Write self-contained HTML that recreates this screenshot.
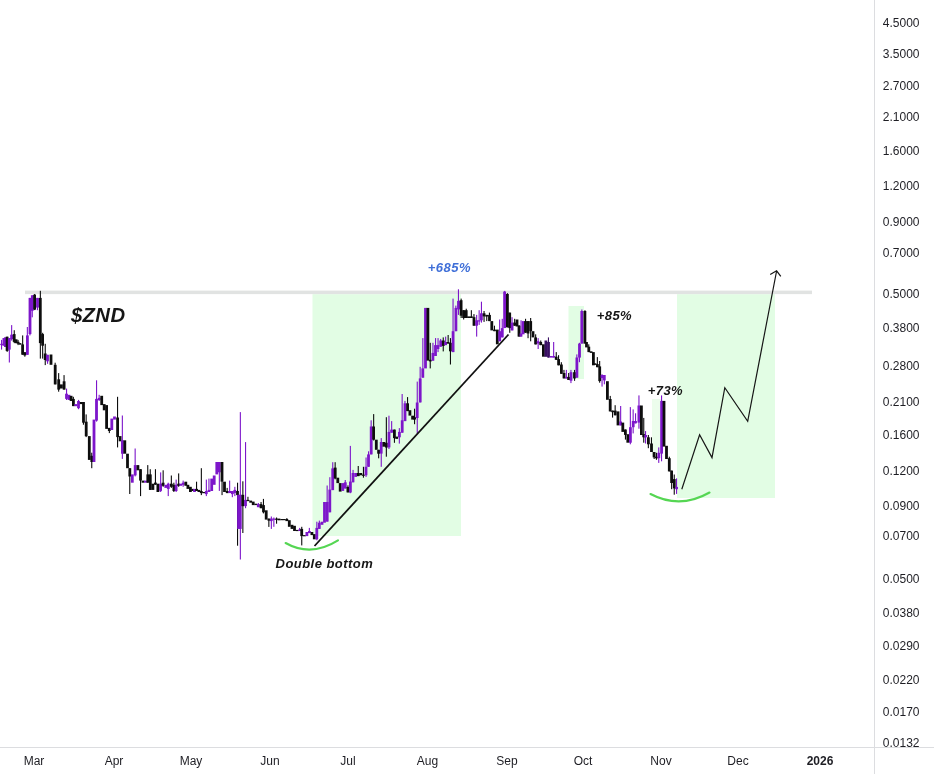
<!DOCTYPE html>
<html lang="en"><head><meta charset="utf-8"><title>$ZND chart</title>
<style>
html,body{margin:0;padding:0;background:#fff}
#chart{position:relative;width:934px;height:774px;overflow:hidden;background:#fff}
svg{display:block}
text{font-family:"Liberation Sans",sans-serif}
.ax{font-size:12px;fill:#1e1e24}
.bi{font-weight:bold;font-style:italic;fill:#161616}
</style></head><body><div id="chart">
<svg width="934" height="774" viewBox="0 0 934 774">
<rect width="934" height="774" fill="#fff"/>
<g fill="#e2fde4">
<rect x="312.5" y="294.2" width="148.5" height="241.8"/>
<rect x="677" y="294.2" width="98" height="203.8"/>
</g>
<rect x="568.5" y="306" width="15.5" height="73" fill="#e2fde4"/>
<rect x="652" y="399" width="10" height="57" fill="#ecfdec"/>
<rect x="25" y="290.6" width="787" height="3.5" fill="#e1e3e2"/>
<rect x="874" y="0" width="1" height="774" fill="#dcdde0"/>
<rect x="0" y="747" width="934" height="1" fill="#dcdde0"/>
<g shape-rendering="auto">
<rect x="1" y="339.9" width="1.1" height="9.7" fill="#7d16ca"/>
<rect x="6.6" y="336.7" width="1.1" height="15.2" fill="#0d0d0d"/>
<rect x="8.8" y="338" width="1.1" height="24.5" fill="#7d16ca"/>
<rect x="11.1" y="325.1" width="1.1" height="15.5" fill="#7d16ca"/>
<rect x="13.7" y="330.2" width="1.1" height="12.9" fill="#0d0d0d"/>
<rect x="17.5" y="339.9" width="1.1" height="5.2" fill="#0d0d0d"/>
<rect x="22.1" y="335.4" width="1.1" height="19.4" fill="#0d0d0d"/>
<rect x="24.3" y="352.2" width="1.1" height="4.5" fill="#0d0d0d"/>
<rect x="26.8" y="327" width="1.1" height="27.8" fill="#7d16ca"/>
<rect x="29.4" y="297.9" width="1.1" height="37.5" fill="#7d16ca"/>
<rect x="31.7" y="295.3" width="1.1" height="22" fill="#7d16ca"/>
<rect x="34.1" y="294" width="1.1" height="16.1" fill="#0d0d0d"/>
<rect x="36.9" y="297.9" width="1.1" height="12.3" fill="#7d16ca"/>
<rect x="39.8" y="290.8" width="1.1" height="67.8" fill="#0d0d0d"/>
<rect x="42.1" y="332.8" width="1.1" height="25.8" fill="#0d0d0d"/>
<rect x="44.7" y="343.8" width="1.1" height="21.3" fill="#0d0d0d"/>
<rect x="47" y="354.8" width="1.1" height="9" fill="#7d16ca"/>
<rect x="54.6" y="362.7" width="1.1" height="21.7" fill="#0d0d0d"/>
<rect x="58.1" y="373.1" width="1.1" height="18.6" fill="#0d0d0d"/>
<rect x="63.5" y="375.1" width="1.1" height="14.5" fill="#0d0d0d"/>
<rect x="66" y="388.6" width="1.1" height="11.4" fill="#7d16ca"/>
<rect x="72.8" y="396.8" width="1.1" height="9.3" fill="#0d0d0d"/>
<rect x="78" y="399.9" width="1.1" height="9.3" fill="#7d16ca"/>
<rect x="82.9" y="402" width="1.1" height="22.7" fill="#0d0d0d"/>
<rect x="85.6" y="414.4" width="1.1" height="22.7" fill="#0d0d0d"/>
<rect x="91.2" y="452.7" width="1.1" height="15.5" fill="#0d0d0d"/>
<rect x="96" y="380.3" width="1.1" height="41.3" fill="#7d16ca"/>
<rect x="98.6" y="394.8" width="1.1" height="6.2" fill="#7d16ca"/>
<rect x="108.8" y="427.9" width="1.1" height="5.2" fill="#0d0d0d"/>
<rect x="117" y="396.8" width="1.1" height="50.6" fill="#0d0d0d"/>
<rect x="121.8" y="415.5" width="1.1" height="43.4" fill="#7d16ca"/>
<rect x="129.2" y="468.2" width="1.1" height="25.8" fill="#0d0d0d"/>
<rect x="134.6" y="448.5" width="1.1" height="27.9" fill="#7d16ca"/>
<rect x="140" y="469.2" width="1.1" height="26.9" fill="#0d0d0d"/>
<rect x="147.2" y="465.1" width="1.1" height="17.6" fill="#0d0d0d"/>
<rect x="149.7" y="469.2" width="1.1" height="20.7" fill="#0d0d0d"/>
<rect x="154.9" y="469.2" width="1.1" height="15.5" fill="#0d0d0d"/>
<rect x="160.1" y="472.4" width="1.1" height="19.6" fill="#7d16ca"/>
<rect x="162.6" y="470.3" width="1.1" height="16.5" fill="#0d0d0d"/>
<rect x="167.7" y="482.7" width="1.1" height="13.4" fill="#7d16ca"/>
<rect x="170.8" y="475.5" width="1.1" height="12.4" fill="#0d0d0d"/>
<rect x="173.3" y="482.7" width="1.1" height="9.3" fill="#0d0d0d"/>
<rect x="175.6" y="479.6" width="1.1" height="12.4" fill="#7d16ca"/>
<rect x="178.1" y="473.4" width="1.1" height="13.4" fill="#0d0d0d"/>
<rect x="182.6" y="480.6" width="1.1" height="6.2" fill="#7d16ca"/>
<rect x="196" y="481.7" width="1.1" height="9.3" fill="#0d0d0d"/>
<rect x="200.8" y="468.2" width="1.1" height="26.9" fill="#0d0d0d"/>
<rect x="205.8" y="479.6" width="1.1" height="16.5" fill="#7d16ca"/>
<rect x="208.4" y="478.6" width="1.1" height="13.4" fill="#7d16ca"/>
<rect x="218.8" y="462" width="1.1" height="28.9" fill="#7d16ca"/>
<rect x="221.5" y="462" width="1.1" height="33.1" fill="#0d0d0d"/>
<rect x="226.6" y="487.9" width="1.1" height="5.2" fill="#0d0d0d"/>
<rect x="229.1" y="480.6" width="1.1" height="12.4" fill="#7d16ca"/>
<rect x="231.8" y="491" width="1.1" height="6.2" fill="#7d16ca"/>
<rect x="234.3" y="486.8" width="1.1" height="9.3" fill="#7d16ca"/>
<rect x="237" y="482.7" width="1.1" height="63" fill="#0d0d0d"/>
<rect x="239.8" y="412.1" width="1.1" height="147.4" fill="#7d16ca"/>
<rect x="242.3" y="481.3" width="1.1" height="51.7" fill="#0d0d0d"/>
<rect x="245" y="442.1" width="1.1" height="66.1" fill="#7d16ca"/>
<rect x="247.4" y="496.8" width="1.1" height="4.3" fill="#0d0d0d"/>
<rect x="257.8" y="503" width="1.1" height="4.1" fill="#7d16ca"/>
<rect x="260.5" y="502" width="1.1" height="6.2" fill="#0d0d0d"/>
<rect x="262.9" y="498.9" width="1.1" height="14.5" fill="#0d0d0d"/>
<rect x="268.3" y="518.6" width="1.1" height="8.3" fill="#0d0d0d"/>
<rect x="270.8" y="516.5" width="1.1" height="12.4" fill="#7d16ca"/>
<rect x="273.3" y="517.5" width="1.1" height="9.3" fill="#7d16ca"/>
<rect x="276" y="517.5" width="1.1" height="6.2" fill="#0d0d0d"/>
<rect x="286.3" y="518.1" width="1.1" height="2.9" fill="#0d0d0d"/>
<rect x="299.1" y="527.9" width="1.1" height="3.1" fill="#7d16ca"/>
<rect x="301.2" y="526.8" width="1.1" height="18.6" fill="#0d0d0d"/>
<rect x="308.8" y="527.9" width="1.1" height="5.2" fill="#7d16ca"/>
<rect x="316.3" y="521.7" width="1.1" height="18.6" fill="#7d16ca"/>
<rect x="318.8" y="520.6" width="1.1" height="8.3" fill="#7d16ca"/>
<rect x="326.6" y="485.5" width="1.1" height="36.2" fill="#7d16ca"/>
<rect x="329.3" y="477.2" width="1.1" height="35.1" fill="#7d16ca"/>
<rect x="332.2" y="462.2" width="1.1" height="27.9" fill="#7d16ca"/>
<rect x="334.6" y="462.2" width="1.1" height="17.1" fill="#0d0d0d"/>
<rect x="344.7" y="480" width="1.1" height="8.5" fill="#7d16ca"/>
<rect x="347.4" y="485.4" width="1.1" height="7" fill="#0d0d0d"/>
<rect x="349.8" y="445.9" width="1.1" height="47.3" fill="#7d16ca"/>
<rect x="352.5" y="469.9" width="1.1" height="12.4" fill="#7d16ca"/>
<rect x="357.7" y="466" width="1.1" height="10.1" fill="#0d0d0d"/>
<rect x="362.9" y="466.8" width="1.1" height="10.9" fill="#0d0d0d"/>
<rect x="365.5" y="457.5" width="1.1" height="19.4" fill="#7d16ca"/>
<rect x="368" y="451.3" width="1.1" height="15.5" fill="#7d16ca"/>
<rect x="370.6" y="420.3" width="1.1" height="34.1" fill="#7d16ca"/>
<rect x="373.1" y="414.1" width="1.1" height="26.4" fill="#0d0d0d"/>
<rect x="378.1" y="449.8" width="1.1" height="8.5" fill="#0d0d0d"/>
<rect x="380.7" y="438.1" width="1.1" height="28.7" fill="#7d16ca"/>
<rect x="385.8" y="417.2" width="1.1" height="39.5" fill="#0d0d0d"/>
<rect x="388.4" y="415.7" width="1.1" height="33.3" fill="#7d16ca"/>
<rect x="391.1" y="421.1" width="1.1" height="11.6" fill="#7d16ca"/>
<rect x="393.9" y="429.6" width="1.1" height="13.2" fill="#0d0d0d"/>
<rect x="398.8" y="428.1" width="1.1" height="15.5" fill="#7d16ca"/>
<rect x="401.6" y="394" width="1.1" height="38.8" fill="#7d16ca"/>
<rect x="404.4" y="400.9" width="1.1" height="20.2" fill="#7d16ca"/>
<rect x="407" y="397.1" width="1.1" height="14" fill="#0d0d0d"/>
<rect x="414" y="408.7" width="1.1" height="15.5" fill="#0d0d0d"/>
<rect x="416.7" y="381.6" width="1.1" height="51.9" fill="#7d16ca"/>
<rect x="419.6" y="366.8" width="1.1" height="35.7" fill="#7d16ca"/>
<rect x="422.3" y="338.1" width="1.1" height="39.5" fill="#7d16ca"/>
<rect x="429.7" y="342.8" width="1.1" height="25.6" fill="#0d0d0d"/>
<rect x="432.4" y="342.8" width="1.1" height="17.8" fill="#7d16ca"/>
<rect x="435" y="338.1" width="1.1" height="17.8" fill="#7d16ca"/>
<rect x="437.5" y="338.1" width="1.1" height="14" fill="#7d16ca"/>
<rect x="440.1" y="338.9" width="1.1" height="7.8" fill="#7d16ca"/>
<rect x="442.7" y="337.4" width="1.1" height="14" fill="#0d0d0d"/>
<rect x="445.1" y="336.6" width="1.1" height="8.5" fill="#7d16ca"/>
<rect x="447.6" y="335" width="1.1" height="8.5" fill="#0d0d0d"/>
<rect x="449.9" y="338.1" width="1.1" height="26.4" fill="#0d0d0d"/>
<rect x="452.5" y="298.6" width="1.1" height="53.5" fill="#7d16ca"/>
<rect x="455.3" y="305.6" width="1.1" height="25.6" fill="#7d16ca"/>
<rect x="457.9" y="289.3" width="1.1" height="25.6" fill="#7d16ca"/>
<rect x="460.6" y="298.6" width="1.1" height="19.4" fill="#0d0d0d"/>
<rect x="463.1" y="310.2" width="1.1" height="9.3" fill="#0d0d0d"/>
<rect x="465.7" y="308.7" width="1.1" height="9.3" fill="#0d0d0d"/>
<rect x="470.8" y="310.2" width="1.1" height="7.8" fill="#0d0d0d"/>
<rect x="473.4" y="314.1" width="1.1" height="11.6" fill="#0d0d0d"/>
<rect x="476.1" y="314.9" width="1.1" height="21.7" fill="#7d16ca"/>
<rect x="478.6" y="310.2" width="1.1" height="14.7" fill="#7d16ca"/>
<rect x="480.9" y="301.7" width="1.1" height="20.9" fill="#7d16ca"/>
<rect x="483.5" y="311" width="1.1" height="10.9" fill="#0d0d0d"/>
<rect x="486.2" y="314.9" width="1.1" height="6.2" fill="#0d0d0d"/>
<rect x="488.9" y="312.6" width="1.1" height="8.5" fill="#0d0d0d"/>
<rect x="493.9" y="325.7" width="1.1" height="5.4" fill="#0d0d0d"/>
<rect x="499.1" y="319.5" width="1.1" height="21.7" fill="#7d16ca"/>
<rect x="501.7" y="318.8" width="1.1" height="18.6" fill="#7d16ca"/>
<rect x="504.1" y="290.9" width="1.1" height="37.2" fill="#7d16ca"/>
<rect x="506.9" y="293.2" width="1.1" height="34.1" fill="#0d0d0d"/>
<rect x="509.2" y="312.6" width="1.1" height="20.2" fill="#0d0d0d"/>
<rect x="511.5" y="317.2" width="1.1" height="13.2" fill="#7d16ca"/>
<rect x="514.1" y="318.8" width="1.1" height="7" fill="#0d0d0d"/>
<rect x="518.5" y="325" width="1.1" height="11.6" fill="#0d0d0d"/>
<rect x="520.5" y="320.3" width="1.1" height="16.3" fill="#7d16ca"/>
<rect x="525" y="318.8" width="1.1" height="14" fill="#0d0d0d"/>
<rect x="527.5" y="321.1" width="1.1" height="17.1" fill="#0d0d0d"/>
<rect x="530.1" y="318" width="1.1" height="23.3" fill="#0d0d0d"/>
<rect x="535.1" y="334.3" width="1.1" height="10.1" fill="#0d0d0d"/>
<rect x="537.6" y="338.1" width="1.1" height="10.9" fill="#7d16ca"/>
<rect x="540.2" y="340.5" width="1.1" height="4.7" fill="#0d0d0d"/>
<rect x="547.9" y="337.4" width="1.1" height="20.2" fill="#3a1064"/>
<rect x="553.1" y="342" width="1.1" height="15.5" fill="#7d16ca"/>
<rect x="555.7" y="352.1" width="1.1" height="7.8" fill="#0d0d0d"/>
<rect x="558" y="355.2" width="1.1" height="10.1" fill="#0d0d0d"/>
<rect x="560.8" y="362.2" width="1.1" height="11.6" fill="#0d0d0d"/>
<rect x="563.4" y="369.9" width="1.1" height="8.5" fill="#0d0d0d"/>
<rect x="565.8" y="369.9" width="1.1" height="8.5" fill="#7d16ca"/>
<rect x="568.1" y="373" width="1.1" height="7" fill="#0d0d0d"/>
<rect x="570.4" y="369.9" width="1.1" height="13.2" fill="#7d16ca"/>
<rect x="574" y="369.9" width="1.1" height="10.9" fill="#0d0d0d"/>
<rect x="576.3" y="354.4" width="1.1" height="23.3" fill="#7d16ca"/>
<rect x="578.9" y="342.8" width="1.1" height="19.4" fill="#7d16ca"/>
<rect x="581.3" y="309.5" width="1.1" height="34.1" fill="#7d16ca"/>
<rect x="584.4" y="310.2" width="1.1" height="33.3" fill="#0d0d0d"/>
<rect x="588.2" y="344.3" width="1.1" height="7.8" fill="#0d0d0d"/>
<rect x="596.8" y="357.1" width="1.1" height="10.1" fill="#0d0d0d"/>
<rect x="599.1" y="361" width="1.1" height="21.7" fill="#0d0d0d"/>
<rect x="601.5" y="374.2" width="1.1" height="12.4" fill="#7d16ca"/>
<rect x="603.8" y="375" width="1.1" height="9.3" fill="#7d16ca"/>
<rect x="609.7" y="395.9" width="1.1" height="15.5" fill="#0d0d0d"/>
<rect x="612" y="410.6" width="1.1" height="7" fill="#0d0d0d"/>
<rect x="614.6" y="405.2" width="1.1" height="10.1" fill="#0d0d0d"/>
<rect x="620.1" y="406" width="1.1" height="19.4" fill="#7d16ca"/>
<rect x="624.9" y="429.5" width="1.1" height="10.1" fill="#0d0d0d"/>
<rect x="629.8" y="407.1" width="1.1" height="37.2" fill="#7d16ca"/>
<rect x="632.6" y="409.4" width="1.1" height="24" fill="#7d16ca"/>
<rect x="635" y="413.3" width="1.1" height="10.1" fill="#7d16ca"/>
<rect x="638.4" y="395.4" width="1.1" height="33.3" fill="#7d16ca"/>
<rect x="643.2" y="417.9" width="1.1" height="24.8" fill="#0d0d0d"/>
<rect x="645" y="431.1" width="1.1" height="12.4" fill="#7d16ca"/>
<rect x="647.8" y="435" width="1.1" height="13.2" fill="#0d0d0d"/>
<rect x="650.9" y="437.3" width="1.1" height="14.7" fill="#0d0d0d"/>
<rect x="653.6" y="452" width="1.1" height="7" fill="#0d0d0d"/>
<rect x="655.9" y="452.8" width="1.1" height="7" fill="#0d0d0d"/>
<rect x="658.2" y="447.4" width="1.1" height="15.5" fill="#7d16ca"/>
<rect x="661" y="395.4" width="1.1" height="65.9" fill="#7d16ca"/>
<rect x="668.8" y="456.7" width="1.1" height="14.7" fill="#0d0d0d"/>
<rect x="671.1" y="470.6" width="1.1" height="18.6" fill="#0d0d0d"/>
<rect x="673.7" y="474.5" width="1.1" height="20.2" fill="#0d0d0d"/>
<rect x="676" y="478.4" width="1.1" height="15.5" fill="#7d16ca"/>
<rect x="0.2" y="343.8" width="2.8" height="1.3" fill="#7d16ca"/>
<rect x="2.5" y="338" width="2.8" height="7.8" fill="#7d16ca"/>
<rect x="4" y="337.3" width="2.8" height="9.7" fill="#7d16ca"/>
<rect x="5.7" y="336.7" width="2.8" height="14.2" fill="#0d0d0d"/>
<rect x="7.9" y="338" width="2.8" height="11.6" fill="#7d16ca"/>
<rect x="10.2" y="334.7" width="2.8" height="4.5" fill="#7d16ca"/>
<rect x="12.8" y="334.1" width="2.8" height="7.8" fill="#0d0d0d"/>
<rect x="14.7" y="339.3" width="2.8" height="3.9" fill="#0d0d0d"/>
<rect x="16.7" y="341.8" width="2.8" height="1.9" fill="#0d0d0d"/>
<rect x="18.6" y="343.1" width="2.8" height="1.6" fill="#0d0d0d"/>
<rect x="21.2" y="344.4" width="2.8" height="10.3" fill="#0d0d0d"/>
<rect x="23.4" y="352.2" width="2.8" height="3.2" fill="#0d0d0d"/>
<rect x="26" y="335.4" width="2.8" height="19.4" fill="#7d16ca"/>
<rect x="28.6" y="297.9" width="2.8" height="36.2" fill="#7d16ca"/>
<rect x="30.9" y="295.3" width="2.8" height="15.5" fill="#7d16ca"/>
<rect x="33.2" y="294.7" width="2.8" height="14.9" fill="#0d0d0d"/>
<rect x="36.1" y="297.9" width="2.8" height="9.7" fill="#7d16ca"/>
<rect x="38.9" y="297.9" width="2.8" height="45.2" fill="#0d0d0d"/>
<rect x="41.2" y="334.1" width="2.8" height="11.6" fill="#0d0d0d"/>
<rect x="43.8" y="353.5" width="2.8" height="6.5" fill="#0d0d0d"/>
<rect x="46.1" y="354.8" width="2.8" height="6.5" fill="#7d16ca"/>
<rect x="49.6" y="354.5" width="2.8" height="10.3" fill="#0d0d0d"/>
<rect x="53.8" y="364.8" width="2.8" height="19.6" fill="#0d0d0d"/>
<rect x="57.3" y="379.3" width="2.8" height="10.3" fill="#0d0d0d"/>
<rect x="60" y="384.4" width="2.8" height="4.1" fill="#0d0d0d"/>
<rect x="62.7" y="381.3" width="2.8" height="8.3" fill="#0d0d0d"/>
<rect x="65.1" y="393.7" width="2.8" height="5.2" fill="#7d16ca"/>
<rect x="67.6" y="394.8" width="2.8" height="5.2" fill="#7d16ca"/>
<rect x="69.7" y="395.8" width="2.8" height="5.2" fill="#0d0d0d"/>
<rect x="72" y="398.9" width="2.8" height="7.2" fill="#0d0d0d"/>
<rect x="74.4" y="404.1" width="2.8" height="2.1" fill="#7d16ca"/>
<rect x="77.1" y="401" width="2.8" height="7.2" fill="#7d16ca"/>
<rect x="79.8" y="402" width="2.8" height="2.1" fill="#0d0d0d"/>
<rect x="82.1" y="402" width="2.8" height="20.7" fill="#0d0d0d"/>
<rect x="84.8" y="421.7" width="2.8" height="14.5" fill="#0d0d0d"/>
<rect x="87.9" y="436.1" width="2.8" height="23.8" fill="#0d0d0d"/>
<rect x="90.4" y="455.8" width="2.8" height="6.2" fill="#0d0d0d"/>
<rect x="92.6" y="419.6" width="2.8" height="42.4" fill="#7d16ca"/>
<rect x="95.1" y="398.9" width="2.8" height="21.7" fill="#7d16ca"/>
<rect x="97.8" y="397.9" width="2.8" height="2.1" fill="#7d16ca"/>
<rect x="100.3" y="395.8" width="2.8" height="9.3" fill="#0d0d0d"/>
<rect x="102.8" y="404.1" width="2.8" height="6.2" fill="#0d0d0d"/>
<rect x="105.2" y="405.1" width="2.8" height="23.8" fill="#0d0d0d"/>
<rect x="107.9" y="427.9" width="2.8" height="3.1" fill="#0d0d0d"/>
<rect x="110.4" y="418.6" width="2.8" height="11.4" fill="#7d16ca"/>
<rect x="113.1" y="416.5" width="2.8" height="3.1" fill="#7d16ca"/>
<rect x="116.2" y="417.5" width="2.8" height="19.6" fill="#0d0d0d"/>
<rect x="118.7" y="436.1" width="2.8" height="5.2" fill="#0d0d0d"/>
<rect x="121" y="440.3" width="2.8" height="13.4" fill="#7d16ca"/>
<rect x="123.4" y="440.3" width="2.8" height="13.4" fill="#0d0d0d"/>
<rect x="126.1" y="453.7" width="2.8" height="14.5" fill="#0d0d0d"/>
<rect x="128.4" y="468.2" width="2.8" height="8.3" fill="#0d0d0d"/>
<rect x="130.9" y="474.4" width="2.8" height="8.3" fill="#7d16ca"/>
<rect x="133.8" y="465.1" width="2.8" height="10.3" fill="#7d16ca"/>
<rect x="136.5" y="465.1" width="2.8" height="5.2" fill="#0d0d0d"/>
<rect x="139.1" y="469.2" width="2.8" height="11.4" fill="#0d0d0d"/>
<rect x="141.6" y="480.6" width="2.8" height="2.1" fill="#0d0d0d"/>
<rect x="144.1" y="480.6" width="2.8" height="2.1" fill="#7d16ca"/>
<rect x="146.4" y="474.4" width="2.8" height="8.3" fill="#0d0d0d"/>
<rect x="148.9" y="474.4" width="2.8" height="15.5" fill="#0d0d0d"/>
<rect x="151.5" y="483.7" width="2.8" height="6.2" fill="#0d0d0d"/>
<rect x="154" y="482.6" width="2.8" height="2.1" fill="#0d0d0d"/>
<rect x="156.5" y="483.7" width="2.8" height="8.3" fill="#0d0d0d"/>
<rect x="159.2" y="483.7" width="2.8" height="7.2" fill="#7d16ca"/>
<rect x="161.7" y="482.7" width="2.8" height="3.1" fill="#0d0d0d"/>
<rect x="164.4" y="484.8" width="2.8" height="3.1" fill="#7d16ca"/>
<rect x="166.9" y="483.7" width="2.8" height="5.2" fill="#7d16ca"/>
<rect x="170" y="483.7" width="2.8" height="3.1" fill="#0d0d0d"/>
<rect x="172.5" y="484.8" width="2.8" height="6.2" fill="#0d0d0d"/>
<rect x="174.7" y="484.8" width="2.8" height="6.2" fill="#7d16ca"/>
<rect x="177.2" y="483.7" width="2.8" height="2.1" fill="#0d0d0d"/>
<rect x="179.3" y="483.7" width="2.8" height="2.1" fill="#7d16ca"/>
<rect x="181.8" y="482.7" width="2.8" height="2.1" fill="#7d16ca"/>
<rect x="184.4" y="481.7" width="2.8" height="4.1" fill="#0d0d0d"/>
<rect x="186.5" y="484.8" width="2.8" height="4.1" fill="#0d0d0d"/>
<rect x="189" y="486.8" width="2.8" height="5.2" fill="#0d0d0d"/>
<rect x="191.3" y="488.9" width="2.8" height="2.1" fill="#0d0d0d"/>
<rect x="193.1" y="488.9" width="2.8" height="3.1" fill="#7d16ca"/>
<rect x="195.2" y="488.9" width="2.8" height="2.1" fill="#0d0d0d"/>
<rect x="197.5" y="489.9" width="2.8" height="2.1" fill="#0d0d0d"/>
<rect x="199.9" y="491" width="2.8" height="2.1" fill="#0d0d0d"/>
<rect x="202.4" y="492" width="2.8" height="1.2" fill="#0d0d0d"/>
<rect x="204.9" y="491" width="2.8" height="3.1" fill="#7d16ca"/>
<rect x="207.6" y="489.9" width="2.8" height="2.1" fill="#7d16ca"/>
<rect x="210.3" y="478.6" width="2.8" height="12.4" fill="#7d16ca"/>
<rect x="212.8" y="475.5" width="2.8" height="9.3" fill="#7d16ca"/>
<rect x="215.4" y="462" width="2.8" height="12.4" fill="#7d16ca"/>
<rect x="217.9" y="462" width="2.8" height="10.3" fill="#7d16ca"/>
<rect x="220.6" y="462" width="2.8" height="19.6" fill="#0d0d0d"/>
<rect x="223.1" y="481.7" width="2.8" height="10.3" fill="#0d0d0d"/>
<rect x="225.8" y="491" width="2.8" height="2.1" fill="#0d0d0d"/>
<rect x="228.3" y="491" width="2.8" height="2.1" fill="#7d16ca"/>
<rect x="231" y="491" width="2.8" height="3.1" fill="#7d16ca"/>
<rect x="233.4" y="489.9" width="2.8" height="3.1" fill="#7d16ca"/>
<rect x="236.1" y="491" width="2.8" height="4.1" fill="#0d0d0d"/>
<rect x="237.1" y="494.8" width="2.8" height="34.1" fill="#7d16ca"/>
<rect x="238.9" y="494.8" width="2.8" height="34.1" fill="#7d16ca"/>
<rect x="241.4" y="494.8" width="2.8" height="11.4" fill="#0d0d0d"/>
<rect x="244.1" y="499.9" width="2.8" height="6.2" fill="#7d16ca"/>
<rect x="246.6" y="499.9" width="2.8" height="1.2" fill="#0d0d0d"/>
<rect x="249.3" y="500.6" width="2.8" height="2.1" fill="#0d0d0d"/>
<rect x="251.8" y="501.6" width="2.8" height="3.5" fill="#0d0d0d"/>
<rect x="254.4" y="503.7" width="2.8" height="1.4" fill="#0d0d0d"/>
<rect x="256.9" y="504.1" width="2.8" height="3.1" fill="#7d16ca"/>
<rect x="259.6" y="504.1" width="2.8" height="4.1" fill="#0d0d0d"/>
<rect x="262.1" y="505.1" width="2.8" height="7.2" fill="#0d0d0d"/>
<rect x="264.8" y="510.3" width="2.8" height="9.3" fill="#0d0d0d"/>
<rect x="267.5" y="518.6" width="2.8" height="2.1" fill="#0d0d0d"/>
<rect x="269.9" y="518.6" width="2.8" height="2.5" fill="#7d16ca"/>
<rect x="272.4" y="518.6" width="2.8" height="1.2" fill="#7d16ca"/>
<rect x="275.1" y="518.6" width="2.8" height="1.2" fill="#0d0d0d"/>
<rect x="277.6" y="518.6" width="2.8" height="1.7" fill="#0d0d0d"/>
<rect x="280.3" y="519" width="2.8" height="1.2" fill="#0d0d0d"/>
<rect x="282.8" y="519" width="2.8" height="1.2" fill="#0d0d0d"/>
<rect x="285.4" y="519" width="2.8" height="2.1" fill="#0d0d0d"/>
<rect x="287.9" y="520.2" width="2.8" height="6.6" fill="#0d0d0d"/>
<rect x="290.6" y="524.8" width="2.8" height="4.1" fill="#0d0d0d"/>
<rect x="293.1" y="525.8" width="2.8" height="5.2" fill="#0d0d0d"/>
<rect x="295.8" y="529.9" width="2.8" height="1.2" fill="#0d0d0d"/>
<rect x="298.3" y="529.5" width="2.8" height="1.4" fill="#7d16ca"/>
<rect x="300.3" y="528.9" width="2.8" height="7.2" fill="#0d0d0d"/>
<rect x="303" y="535.1" width="2.8" height="1.2" fill="#0d0d0d"/>
<rect x="305.5" y="532" width="2.8" height="4.1" fill="#7d16ca"/>
<rect x="308" y="531" width="2.8" height="2.1" fill="#7d16ca"/>
<rect x="310.5" y="532" width="2.8" height="3.1" fill="#0d0d0d"/>
<rect x="312.9" y="534.1" width="2.8" height="5.2" fill="#0d0d0d"/>
<rect x="315.4" y="527.9" width="2.8" height="11.4" fill="#7d16ca"/>
<rect x="317.9" y="522.7" width="2.8" height="6.2" fill="#7d16ca"/>
<rect x="320.6" y="521.7" width="2.8" height="3.1" fill="#7d16ca"/>
<rect x="323.1" y="502" width="2.8" height="20.7" fill="#7d16ca"/>
<rect x="325.8" y="502" width="2.8" height="19.6" fill="#7d16ca"/>
<rect x="328.4" y="489.6" width="2.8" height="22.7" fill="#7d16ca"/>
<rect x="331.3" y="468.4" width="2.8" height="21.7" fill="#7d16ca"/>
<rect x="333.8" y="467.6" width="2.8" height="10.9" fill="#0d0d0d"/>
<rect x="336.4" y="477.7" width="2.8" height="5.4" fill="#0d0d0d"/>
<rect x="338.8" y="483.1" width="2.8" height="8.5" fill="#0d0d0d"/>
<rect x="341.4" y="483.1" width="2.8" height="7.8" fill="#7d16ca"/>
<rect x="343.9" y="482.3" width="2.8" height="6.2" fill="#7d16ca"/>
<rect x="346.5" y="487" width="2.8" height="5.4" fill="#0d0d0d"/>
<rect x="349" y="481.6" width="2.8" height="10.9" fill="#7d16ca"/>
<rect x="351.6" y="473" width="2.8" height="9.3" fill="#7d16ca"/>
<rect x="354.3" y="473" width="2.8" height="3.9" fill="#7d16ca"/>
<rect x="356.9" y="473" width="2.8" height="3.1" fill="#0d0d0d"/>
<rect x="359.4" y="473" width="2.8" height="2.3" fill="#0d0d0d"/>
<rect x="362" y="474.6" width="2.8" height="1.2" fill="#0d0d0d"/>
<rect x="364.6" y="466.8" width="2.8" height="8.5" fill="#7d16ca"/>
<rect x="367.1" y="454.4" width="2.8" height="12.4" fill="#7d16ca"/>
<rect x="369.8" y="426.5" width="2.8" height="27.9" fill="#7d16ca"/>
<rect x="372.2" y="426.5" width="2.8" height="13.2" fill="#0d0d0d"/>
<rect x="374.9" y="439.7" width="2.8" height="10.1" fill="#0d0d0d"/>
<rect x="377.2" y="449.8" width="2.8" height="3.9" fill="#0d0d0d"/>
<rect x="379.8" y="442" width="2.8" height="11.6" fill="#7d16ca"/>
<rect x="382.5" y="442" width="2.8" height="4.7" fill="#0d0d0d"/>
<rect x="385" y="442.8" width="2.8" height="4.7" fill="#0d0d0d"/>
<rect x="387.6" y="431.9" width="2.8" height="15.5" fill="#7d16ca"/>
<rect x="390.2" y="429.6" width="2.8" height="3.1" fill="#7d16ca"/>
<rect x="393" y="429.6" width="2.8" height="8.5" fill="#0d0d0d"/>
<rect x="395.3" y="436.6" width="2.8" height="2.3" fill="#0d0d0d"/>
<rect x="398" y="431.9" width="2.8" height="5.4" fill="#7d16ca"/>
<rect x="400.8" y="420.3" width="2.8" height="12.4" fill="#7d16ca"/>
<rect x="403.6" y="403.3" width="2.8" height="17.8" fill="#7d16ca"/>
<rect x="406.2" y="403.3" width="2.8" height="7.8" fill="#0d0d0d"/>
<rect x="408.5" y="410.2" width="2.8" height="5.4" fill="#0d0d0d"/>
<rect x="411.2" y="415.7" width="2.8" height="3.9" fill="#0d0d0d"/>
<rect x="413.2" y="417.2" width="2.8" height="2.3" fill="#0d0d0d"/>
<rect x="415.8" y="402.5" width="2.8" height="15.5" fill="#7d16ca"/>
<rect x="418.8" y="378.4" width="2.8" height="24" fill="#7d16ca"/>
<rect x="421.4" y="368.4" width="2.8" height="9.3" fill="#7d16ca"/>
<rect x="424.1" y="307.9" width="2.8" height="60.5" fill="#7d16ca"/>
<rect x="426.5" y="307.9" width="2.8" height="52.7" fill="#0d0d0d"/>
<rect x="428.9" y="359.8" width="2.8" height="1.6" fill="#0d0d0d"/>
<rect x="431.5" y="352.9" width="2.8" height="7.8" fill="#7d16ca"/>
<rect x="434.1" y="345.1" width="2.8" height="10.9" fill="#7d16ca"/>
<rect x="436.6" y="345.1" width="2.8" height="3.9" fill="#7d16ca"/>
<rect x="439.3" y="340.5" width="2.8" height="6.2" fill="#7d16ca"/>
<rect x="441.9" y="340.5" width="2.8" height="5.4" fill="#0d0d0d"/>
<rect x="444.2" y="342" width="2.8" height="3.1" fill="#7d16ca"/>
<rect x="446.7" y="342" width="2.8" height="1.6" fill="#0d0d0d"/>
<rect x="449" y="342.8" width="2.8" height="8.5" fill="#0d0d0d"/>
<rect x="451.7" y="331.2" width="2.8" height="20.9" fill="#7d16ca"/>
<rect x="454.5" y="307.9" width="2.8" height="23.3" fill="#7d16ca"/>
<rect x="457.1" y="300.9" width="2.8" height="8.5" fill="#7d16ca"/>
<rect x="459.7" y="300.2" width="2.8" height="15.5" fill="#0d0d0d"/>
<rect x="462.2" y="310.2" width="2.8" height="7.8" fill="#0d0d0d"/>
<rect x="464.8" y="310.2" width="2.8" height="7.8" fill="#0d0d0d"/>
<rect x="467.2" y="316.4" width="2.8" height="1.6" fill="#0d0d0d"/>
<rect x="470" y="316.4" width="2.8" height="1.6" fill="#0d0d0d"/>
<rect x="472.6" y="317.2" width="2.8" height="8.5" fill="#0d0d0d"/>
<rect x="475.2" y="320.3" width="2.8" height="5.4" fill="#7d16ca"/>
<rect x="477.7" y="320.3" width="2.8" height="1.2" fill="#7d16ca"/>
<rect x="480" y="313.3" width="2.8" height="7" fill="#7d16ca"/>
<rect x="482.7" y="313.3" width="2.8" height="3.1" fill="#0d0d0d"/>
<rect x="485.3" y="314.9" width="2.8" height="1.6" fill="#0d0d0d"/>
<rect x="488.1" y="314.9" width="2.8" height="6.2" fill="#0d0d0d"/>
<rect x="490.4" y="321.1" width="2.8" height="9.3" fill="#0d0d0d"/>
<rect x="493.1" y="329.6" width="2.8" height="1.6" fill="#0d0d0d"/>
<rect x="495.9" y="329.6" width="2.8" height="14.7" fill="#0d0d0d"/>
<rect x="498.3" y="331.2" width="2.8" height="10.1" fill="#7d16ca"/>
<rect x="500.9" y="328.1" width="2.8" height="9.3" fill="#7d16ca"/>
<rect x="503.2" y="291.6" width="2.8" height="36.4" fill="#7d16ca"/>
<rect x="506" y="294" width="2.8" height="33.3" fill="#0d0d0d"/>
<rect x="508.3" y="312.6" width="2.8" height="15.5" fill="#0d0d0d"/>
<rect x="510.7" y="322.6" width="2.8" height="7.8" fill="#7d16ca"/>
<rect x="513.3" y="322.6" width="2.8" height="3.1" fill="#0d0d0d"/>
<rect x="515.6" y="319.5" width="2.8" height="7" fill="#0d0d0d"/>
<rect x="517.6" y="325.7" width="2.8" height="10.9" fill="#0d0d0d"/>
<rect x="519.6" y="333.5" width="2.8" height="3.1" fill="#7d16ca"/>
<rect x="521.8" y="321.1" width="2.8" height="13.2" fill="#7d16ca"/>
<rect x="524.1" y="321.1" width="2.8" height="11.6" fill="#0d0d0d"/>
<rect x="526.6" y="321.1" width="2.8" height="12.4" fill="#0d0d0d"/>
<rect x="529.3" y="321.1" width="2.8" height="10.1" fill="#0d0d0d"/>
<rect x="531.6" y="331.2" width="2.8" height="6.2" fill="#0d0d0d"/>
<rect x="534.2" y="337.4" width="2.8" height="7" fill="#0d0d0d"/>
<rect x="536.7" y="341.2" width="2.8" height="2.3" fill="#7d16ca"/>
<rect x="539.3" y="342" width="2.8" height="3.1" fill="#0d0d0d"/>
<rect x="542" y="344.3" width="2.8" height="12.4" fill="#0d0d0d"/>
<rect x="544.5" y="340.5" width="2.8" height="16.3" fill="#3a1064"/>
<rect x="547.1" y="342" width="2.8" height="15.5" fill="#3a1064"/>
<rect x="549.7" y="356" width="2.8" height="1.6" fill="#7d16ca"/>
<rect x="552.2" y="356" width="2.8" height="1.6" fill="#7d16ca"/>
<rect x="554.8" y="356.7" width="2.8" height="3.1" fill="#0d0d0d"/>
<rect x="557.2" y="359.1" width="2.8" height="6.2" fill="#0d0d0d"/>
<rect x="560" y="364.5" width="2.8" height="9.3" fill="#0d0d0d"/>
<rect x="562.6" y="373" width="2.8" height="5.4" fill="#0d0d0d"/>
<rect x="564.9" y="376.9" width="2.8" height="1.6" fill="#7d16ca"/>
<rect x="567.2" y="376.9" width="2.8" height="3.1" fill="#0d0d0d"/>
<rect x="569.6" y="372.2" width="2.8" height="8.5" fill="#7d16ca"/>
<rect x="573.1" y="372.2" width="2.8" height="6.2" fill="#0d0d0d"/>
<rect x="575.5" y="357.5" width="2.8" height="20.2" fill="#7d16ca"/>
<rect x="578.1" y="343.6" width="2.8" height="14" fill="#7d16ca"/>
<rect x="580.4" y="311" width="2.8" height="32.6" fill="#7d16ca"/>
<rect x="583.5" y="311" width="2.8" height="32.6" fill="#0d0d0d"/>
<rect x="585.1" y="342" width="2.8" height="5.4" fill="#0d0d0d"/>
<rect x="587.4" y="346.7" width="2.8" height="5.4" fill="#0d0d0d"/>
<rect x="589.7" y="351.3" width="2.8" height="1.6" fill="#0d0d0d"/>
<rect x="592" y="352.1" width="2.8" height="13.2" fill="#0d0d0d"/>
<rect x="593.6" y="363.3" width="2.8" height="1.6" fill="#0d0d0d"/>
<rect x="596" y="364.1" width="2.8" height="3.1" fill="#0d0d0d"/>
<rect x="598.3" y="366.4" width="2.8" height="14.7" fill="#0d0d0d"/>
<rect x="600.6" y="375" width="2.8" height="3.1" fill="#7d16ca"/>
<rect x="602.9" y="375" width="2.8" height="5.4" fill="#7d16ca"/>
<rect x="606" y="381.2" width="2.8" height="18.6" fill="#0d0d0d"/>
<rect x="608.8" y="399" width="2.8" height="12.4" fill="#0d0d0d"/>
<rect x="611.2" y="410.6" width="2.8" height="1.6" fill="#0d0d0d"/>
<rect x="613.8" y="410.6" width="2.8" height="4.7" fill="#0d0d0d"/>
<rect x="616.6" y="411.4" width="2.8" height="14" fill="#0d0d0d"/>
<rect x="619.2" y="421.5" width="2.8" height="3.9" fill="#7d16ca"/>
<rect x="621.4" y="422.6" width="2.8" height="9.3" fill="#0d0d0d"/>
<rect x="624" y="429.5" width="2.8" height="5.4" fill="#0d0d0d"/>
<rect x="626.4" y="434.2" width="2.8" height="8.5" fill="#0d0d0d"/>
<rect x="629" y="427.2" width="2.8" height="15.5" fill="#7d16ca"/>
<rect x="631.8" y="421" width="2.8" height="6.2" fill="#7d16ca"/>
<rect x="634.1" y="421" width="2.8" height="2.3" fill="#7d16ca"/>
<rect x="637.5" y="405.5" width="2.8" height="17.1" fill="#7d16ca"/>
<rect x="640" y="405.5" width="2.8" height="29.5" fill="#0d0d0d"/>
<rect x="642.3" y="434.2" width="2.8" height="3.1" fill="#0d0d0d"/>
<rect x="644.2" y="435" width="2.8" height="2.3" fill="#7d16ca"/>
<rect x="647" y="437.3" width="2.8" height="7" fill="#0d0d0d"/>
<rect x="650.1" y="443.5" width="2.8" height="8.5" fill="#0d0d0d"/>
<rect x="652.7" y="452" width="2.8" height="5.4" fill="#0d0d0d"/>
<rect x="655" y="456.7" width="2.8" height="1.6" fill="#0d0d0d"/>
<rect x="657.4" y="452.8" width="2.8" height="5.4" fill="#7d16ca"/>
<rect x="660.2" y="400.9" width="2.8" height="52.7" fill="#7d16ca"/>
<rect x="662.6" y="400.9" width="2.8" height="45.7" fill="#0d0d0d"/>
<rect x="665.1" y="445.8" width="2.8" height="13.2" fill="#0d0d0d"/>
<rect x="667.9" y="458.2" width="2.8" height="13.2" fill="#0d0d0d"/>
<rect x="670.2" y="470.6" width="2.8" height="12.4" fill="#0d0d0d"/>
<rect x="672.9" y="479.1" width="2.8" height="9.3" fill="#0d0d0d"/>
<rect x="675.2" y="486.9" width="2.8" height="2.3" fill="#7d16ca"/>
</g>
<line x1="314.5" y1="546" x2="508.5" y2="334.5" stroke="#111" stroke-width="1.8"/>
<path d="M285.6 543 Q311 557.4 338 540.4" fill="none" stroke="#55d653" stroke-width="2.1" stroke-linecap="round"/>
<path d="M650.5 494 Q680 509.5 709.5 492.5" fill="none" stroke="#55d653" stroke-width="2.1" stroke-linecap="round"/>
<polyline points="681.8,489.2 699.6,434.7 712,457.6 724.8,387.7 747.7,421.3 776.6,271" fill="none" stroke="#161616" stroke-width="1.2" stroke-linejoin="miter"/>
<polyline points="770.2,274.6 776.6,270.8 780.8,276.4" fill="none" stroke="#161616" stroke-width="1.2"/>
<text class="bi" x="70.9" y="322.2" font-size="20.3" letter-spacing="0.4">$ZND</text>
<text class="bi" x="427.8" y="272" font-size="13" letter-spacing="0.45" style="fill:#3f6fd8">+685%</text>
<text class="bi" x="596.8" y="319.7" font-size="13" letter-spacing="0.4">+85%</text>
<text class="bi" x="647.8" y="394.8" font-size="13" letter-spacing="0.4">+73%</text>
<text class="bi" x="275.6" y="568.4" font-size="13" letter-spacing="0.45">Double bottom</text>
<text class="ax" x="882.8" y="26.9">4.5000</text>
<text class="ax" x="882.8" y="57.9">3.5000</text>
<text class="ax" x="882.8" y="90">2.7000</text>
<text class="ax" x="882.8" y="121">2.1000</text>
<text class="ax" x="882.8" y="154.6">1.6000</text>
<text class="ax" x="882.8" y="190.1">1.2000</text>
<text class="ax" x="882.8" y="225.7">0.9000</text>
<text class="ax" x="882.8" y="256.7">0.7000</text>
<text class="ax" x="882.8" y="298.3">0.5000</text>
<text class="ax" x="882.8" y="332.2">0.3800</text>
<text class="ax" x="882.8" y="369.9">0.2800</text>
<text class="ax" x="882.8" y="405.9">0.2100</text>
<text class="ax" x="882.8" y="439">0.1600</text>
<text class="ax" x="882.8" y="474.5">0.1200</text>
<text class="ax" x="882.8" y="510">0.0900</text>
<text class="ax" x="882.8" y="540.3">0.0700</text>
<text class="ax" x="882.8" y="582.6">0.0500</text>
<text class="ax" x="882.8" y="616.5">0.0380</text>
<text class="ax" x="882.8" y="649.9">0.0290</text>
<text class="ax" x="882.8" y="683.5">0.0220</text>
<text class="ax" x="882.8" y="715.9">0.0170</text>
<text class="ax" x="882.8" y="747.1">0.0132</text>
<text class="ax" x="34" y="765" text-anchor="middle">Mar</text>
<text class="ax" x="114" y="765" text-anchor="middle">Apr</text>
<text class="ax" x="191" y="765" text-anchor="middle">May</text>
<text class="ax" x="270" y="765" text-anchor="middle">Jun</text>
<text class="ax" x="348" y="765" text-anchor="middle">Jul</text>
<text class="ax" x="427.5" y="765" text-anchor="middle">Aug</text>
<text class="ax" x="507" y="765" text-anchor="middle">Sep</text>
<text class="ax" x="583" y="765" text-anchor="middle">Oct</text>
<text class="ax" x="661" y="765" text-anchor="middle">Nov</text>
<text class="ax" x="738" y="765" text-anchor="middle">Dec</text>
<text class="ax" x="820" y="765" text-anchor="middle" font-weight="bold">2026</text>
</svg></div></body></html>
